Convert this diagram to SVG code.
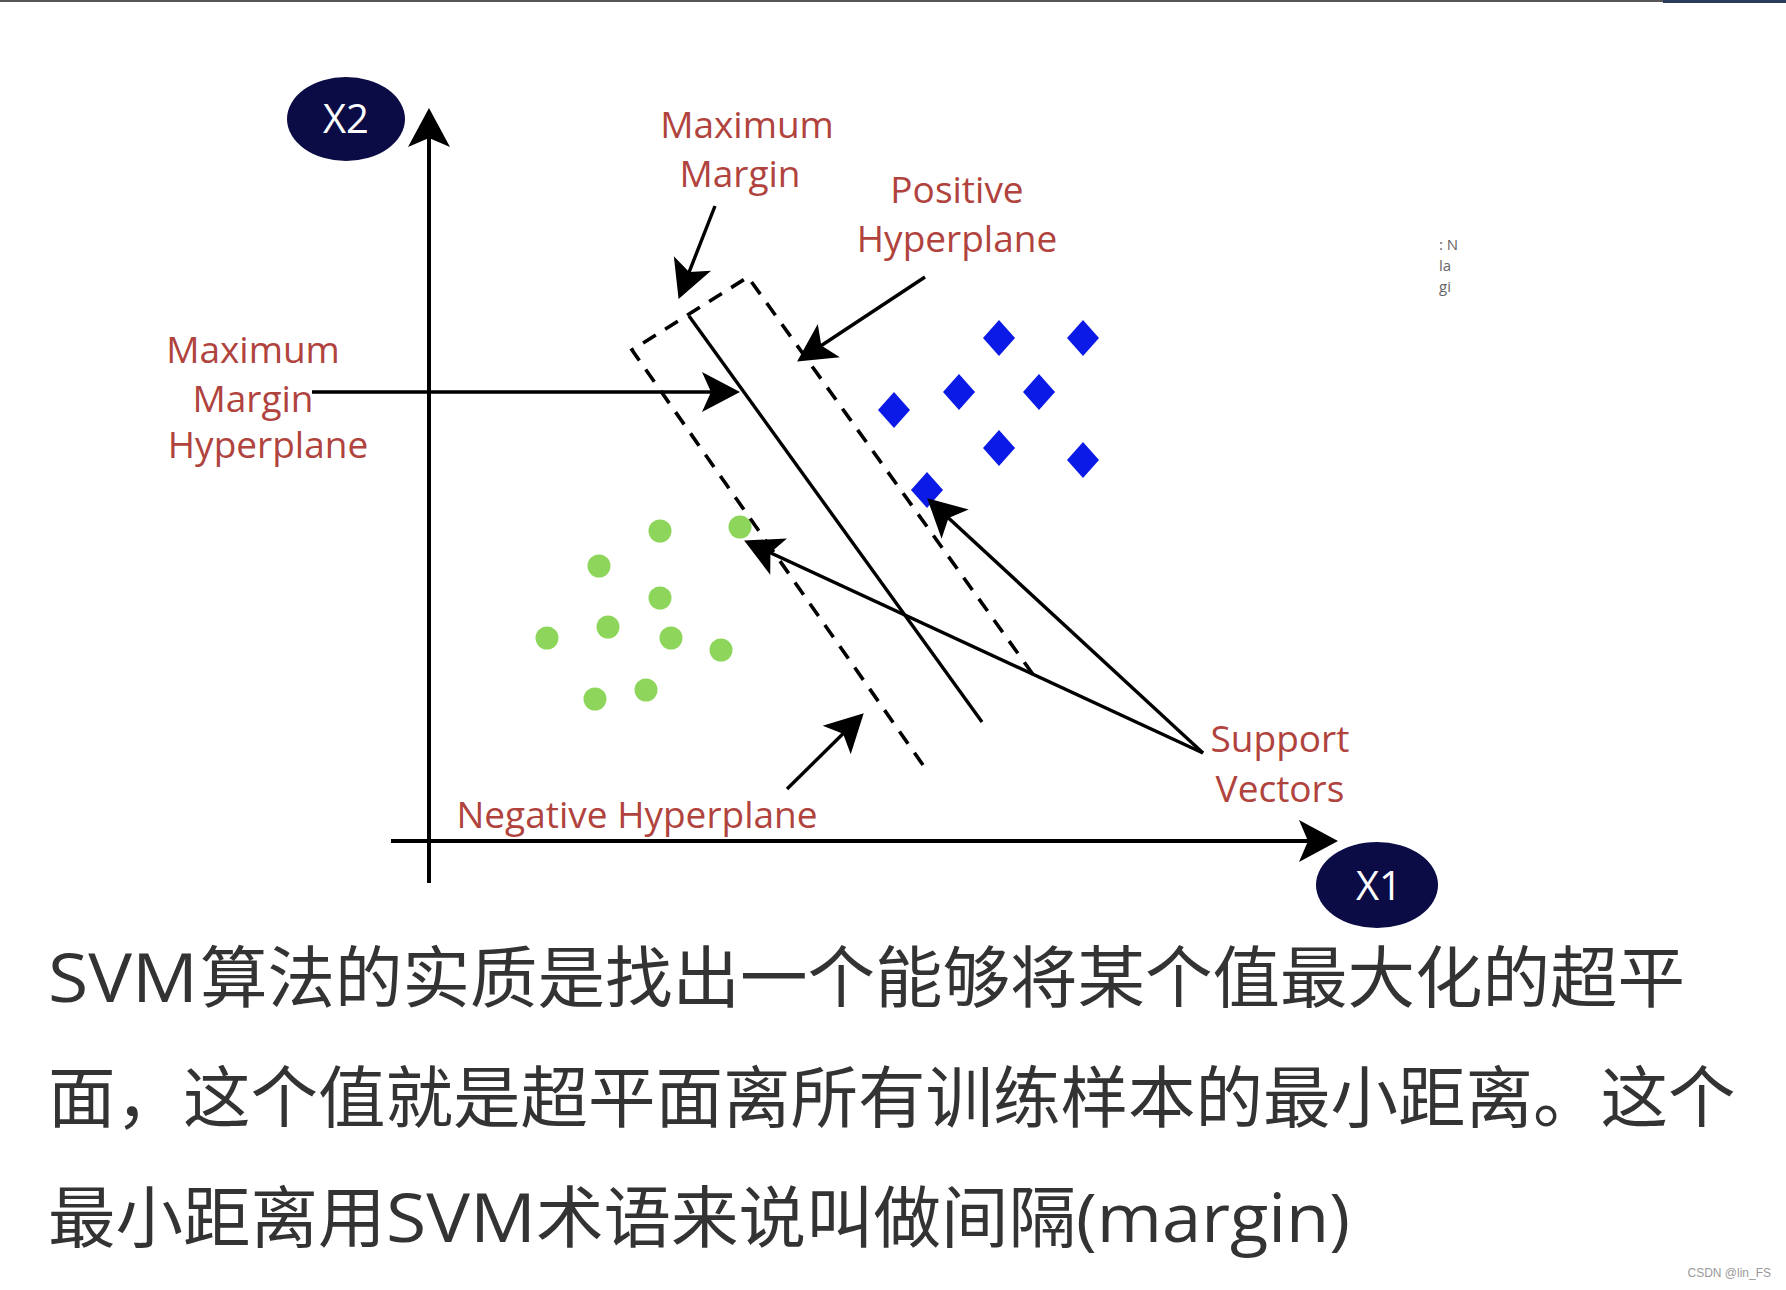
<svg xmlns="http://www.w3.org/2000/svg" width="1786" height="1290" viewBox="0 0 1786 1290">
<style>
.lbl{font-family:"Open Sans","Noto Sans",sans-serif;font-size:37px;font-weight:500;fill:#b0433d;text-anchor:middle}
.ax{font-family:"Open Sans","Noto Sans",sans-serif;font-size:40px;font-weight:500;fill:#ffffff;text-anchor:middle}
.body{font-family:"Open Sans","Noto Sans CJK SC",sans-serif;font-size:67.5px;fill:#333333}
.cjk{font-family:"Noto Sans CJK SC",sans-serif;font-size:67.5px;fill:#333333}
.arr{stroke:#000;stroke-width:3.4;fill:none;marker-end:url(#ah)}
.axis{stroke:#000;stroke-width:4;fill:none;marker-end:url(#ahL)}
.dash{stroke:#000;stroke-width:3.6;fill:none;stroke-dasharray:15 11}
.dot{fill:#8dd65b}
.dia{fill:#0b1ae6}
.node{fill:#0b0b45}
</style>
<defs>
<marker id="ah" markerUnits="userSpaceOnUse" markerWidth="42" markerHeight="42" viewBox="0 0 42 42" refX="29" refY="21" orient="auto"><path d="M40,21 L2,1 L11,21 L2,41 Z" fill="#000"/></marker>
<marker id="ahL" markerUnits="userSpaceOnUse" markerWidth="42" markerHeight="44" viewBox="0 0 42 44" refX="30" refY="22" orient="auto"><path d="M40,22 L1,1 L10,22 L1,43 Z" fill="#000"/></marker>
<path id="d" d="M0,-18 L16,0 L0,18 L-16,0 Z"/>
</defs>
<rect width="1786" height="1290" fill="#ffffff"/>
<rect x="0" y="0" width="1786" height="2" fill="#555555"/>
<rect x="1663" y="0" width="123" height="3" fill="#2b3b5c"/>

<g id="negative-points">
<circle class="dot" cx="660" cy="531" r="11.5"/>
<circle class="dot" cx="740" cy="527" r="11.5"/>
<circle class="dot" cx="599" cy="566" r="11.5"/>
<circle class="dot" cx="660" cy="598" r="11.5"/>
<circle class="dot" cx="608" cy="627" r="11.5"/>
<circle class="dot" cx="547" cy="638" r="11.5"/>
<circle class="dot" cx="671" cy="638" r="11.5"/>
<circle class="dot" cx="721" cy="650" r="11.5"/>
<circle class="dot" cx="595" cy="699" r="11.5"/>
<circle class="dot" cx="646" cy="690" r="11.5"/>
</g>
<g id="positive-points">
<use href="#d" class="dia" x="999" y="338"/>
<use href="#d" class="dia" x="1083" y="338"/>
<use href="#d" class="dia" x="959" y="392"/>
<use href="#d" class="dia" x="1039" y="392"/>
<use href="#d" class="dia" x="894" y="410"/>
<use href="#d" class="dia" x="999" y="448"/>
<use href="#d" class="dia" x="1083" y="460"/>
<use href="#d" class="dia" x="927" y="490"/>
</g>

<g id="margin-box">
<path class="dash" d="M923,765 L632,350 L748,277 L1037,680"/>
</g>
<g id="max-margin-hyperplane">
<line x1="689" y1="316" x2="982" y2="722" stroke="#000" stroke-width="3.4"/>
</g>

<g id="axes">
<line class="axis" x1="429" y1="883" x2="429" y2="118"/>
<line class="axis" x1="391" y1="841" x2="1328" y2="841"/>
</g>

<g id="connectors">
<line class="arr" x1="715" y1="206" x2="682.6" y2="288.7"/>
<line class="arr" x1="925" y1="277" x2="806.3" y2="355.5"/>
<line class="arr" x1="312" y1="392" x2="729" y2="392"/>
<line class="arr" x1="787" y1="789" x2="855.9" y2="721"/>
<line class="arr" x1="1203" y1="753" x2="754.1" y2="545.2"/>
<line class="arr" x1="1203" y1="753" x2="935.3" y2="505.8"/>
</g>

<g id="node-x2">
<ellipse class="node" cx="346" cy="119" rx="59" ry="42"/>
<text class="ax" x="346" y="133">X2</text>
</g>
<g id="node-x1">
<ellipse class="node" cx="1377" cy="885" rx="61" ry="43"/>
<text class="ax" x="1379" y="900">X1</text>
</g>

<g id="label-maximum-margin">
<text class="lbl" x="747" y="138">Maximum</text>
<text class="lbl" x="740" y="187">Margin</text>
</g>
<g id="label-positive-hyperplane">
<text class="lbl" x="957" y="203">Positive</text>
<text class="lbl" x="957" y="252">Hyperplane</text>
</g>
<g id="label-mmh">
<text class="lbl" x="253" y="363">Maximum</text>
<text class="lbl" x="253" y="412">Margin</text>
<text class="lbl" x="268" y="458">Hyperplane</text>
</g>
<g id="label-negative-hyperplane">
<text class="lbl" x="637" y="828">Negative Hyperplane</text>
</g>
<g id="label-support-vectors">
<text class="lbl" x="1280" y="752">Support</text>
<text class="lbl" x="1280" y="802">Vectors</text>
</g>

<g id="fragment" font-family="Open Sans, sans-serif" font-size="15" fill="#666">
<text x="1439" y="250">: N</text>
<text x="1439" y="271">la</text>
<text x="1439" y="292">gi</text>
</g>

<g id="caption">
<text class="body" x="48" y="1002" textLength="150" lengthAdjust="spacingAndGlyphs">SVM</text>
<text class="cjk" x="200" y="1002">算法的实质是找出一个能够将某个值最大化的超平</text>
<text class="cjk" x="48" y="1122">面，这个值就是超平面离所有训练样本的最小距离。这个</text>
<text class="cjk" x="48" y="1242">最小距离用</text>
<text class="body" x="386" y="1242" textLength="150" lengthAdjust="spacingAndGlyphs">SVM</text>
<text class="cjk" x="536" y="1242">术语来说叫做间隔</text>
<text class="body" x="1076" y="1242" textLength="274" lengthAdjust="spacingAndGlyphs">(margin)</text>
</g>

<text x="1771" y="1277" font-family="Liberation Sans, Arial, sans-serif" font-size="12" fill="#999" text-anchor="end">CSDN @lin_FS</text>
</svg>
